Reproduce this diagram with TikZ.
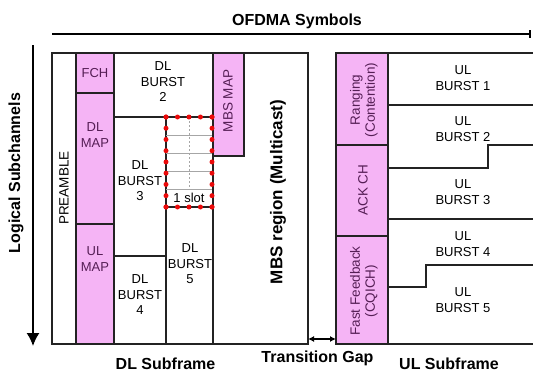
\documentclass[tikz,border=0pt]{standalone}
\usepackage{fontspec}
\setmainfont{Liberation Sans}
\usetikzlibrary{arrows.meta}
\definecolor{pinkfill}{RGB}{245,180,245}
\definecolor{pinktext}{RGB}{85,30,85}
\definecolor{framecol}{RGB}{35,35,35}
\definecolor{slotred}{RGB}{235,10,10}
\begin{document}
\begin{tikzpicture}[x=1pt,y=-1pt,
  region/.style={draw=framecol,line width=1.4pt,outer sep=0pt,inner sep=0pt,anchor=north west},
  pinkregion/.style={region,fill=pinkfill},
  lbl/.style={font=\fontsize{13}{15.5}\selectfont,align=center,inner sep=0pt,text=black},
  plbl/.style={lbl,text=pinktext},
  rlbl/.style={plbl,font=\fontsize{13.5}{15}\selectfont,rotate=90},
  big/.style={font=\fontsize{16}{19}\selectfont\bfseries,inner sep=0pt,text=black},
  gridline/.style={draw=gray!70,line width=0.6pt},
  reddots/.style={draw=slotred,line width=5pt,line cap=round},
  axis/.style={draw=black,line width=1.5pt}]
\useasboundingbox[fill=white] (0,0) rectangle (533,372);

% ---------------- DL subframe ----------------
\node[region,minimum width=256pt,minimum height=291pt] (dlframe) at (52,53) {};
\node[region,minimum width=24pt,minimum height=291pt] (pre) at (52,53) {};
\node[pinkregion,minimum width=38pt,minimum height=40pt] (fch) at (76,53) {};
\node[pinkregion,minimum width=38pt,minimum height=131pt] (dlmap) at (76,93) {};
\node[pinkregion,minimum width=38pt,minimum height=120pt] (ulmap) at (76,224) {};
\node[region,minimum width=99pt,minimum height=64pt] (b2) at (114,53) {};
\node[region,minimum width=52pt,minimum height=139pt] (b3) at (114,117) {};
\node[region,minimum width=52pt,minimum height=88pt] (b4) at (114,256) {};
\node[region,minimum width=47pt,minimum height=227pt] (b5) at (166,117) {};
\node[pinkregion,minimum width=31pt,minimum height=103pt] (mbsmap) at (213,53) {};

% slot grid
\coordinate (s1) at (166,117);
\coordinate (s2) at (212,117);
\coordinate (s3) at (212,207);
\coordinate (s4) at (166,207);
\foreach \yy in {135,153,171,189}{\draw[gridline] (166,\yy) -- (212,\yy);}
\draw[gridline,dash pattern=on 2pt off 2pt] (189,117) -- (189,189);
\draw[framecol,line width=1.4pt] (s4) -- (s3);
\draw[reddots,dash pattern=on 0pt off 11.49pt] (s1) -- (s2);
\draw[reddots,dash pattern=on 0pt off 11.49pt] (s4) -- (s3);
\draw[reddots,dash pattern=on 0pt off 11.24pt] (s1) -- (s4);
\draw[reddots,dash pattern=on 0pt off 11.24pt] (s2) -- (s3);

% DL labels
\node[lbl,font=\fontsize{13.5}{15}\selectfont,rotate=90] (tpre) at (64,188) {PREAMBLE};
\node[plbl] (tfch) at (95,73) {FCH};
\node[plbl] (tdlmap) at (95,135) {DL\\MAP};
\node[plbl] (tulmap) at (95,259) {UL\\MAP};
\node[lbl] (tb2) at (163,82) {DL\\BURST\\2};
\node[lbl] (tb3) at (140,181) {DL\\BURST\\3};
\node[lbl] (tb4) at (140,295) {DL\\BURST\\4};
\node[lbl] (tb5) at (190,264) {DL\\BURST\\5};
\node[lbl] (tslot) at (189,198) {1 slot};
\node[rlbl] (tmbsmap) at (228,101) {MBS MAP};
\node[big,font=\fontsize{17}{20}\selectfont\bfseries,rotate=90] (tmbs) at (278,192) {MBS region (Multicast)};

% ---------------- UL subframe ----------------
\coordinate (ultr) at (533,53);
\coordinate (ulbr) at (533,344);
\node[pinkregion,minimum width=52pt,minimum height=92pt] (rng) at (336,53) {};
\node[pinkregion,minimum width=52pt,minimum height=91pt] (ack) at (336,145) {};
\node[pinkregion,minimum width=52pt,minimum height=108pt] (ff) at (336,236) {};
\draw[framecol,line width=1.4pt] (rng.north east) -- (ultr);
\draw[framecol,line width=1.4pt] (ff.south east) -- (ulbr);
\draw[framecol,line width=1.4pt] (388,105) -- (533,105);
\draw[framecol,line width=1.4pt] (388,168) -- (488,168) -- (488,145) -- (533,145);
\draw[framecol,line width=1.4pt] (388,219) -- (533,219);
\draw[framecol,line width=1.4pt] (388,287) -- (426,287) -- (426,265) -- (533,265);

\node[rlbl] (trng) at (364,100) {Ranging\\(Contention)};
\node[rlbl] (tack) at (363,190) {ACK CH};
\node[rlbl] (tff) at (364,291) {Fast Feedback\\(CQICH)};
\node[lbl] (tu1) at (463,78) {UL\\BURST 1};
\node[lbl] (tu2) at (463,129) {UL\\BURST 2};
\node[lbl] (tu3) at (463,192) {UL\\BURST 3};
\node[lbl] (tu4) at (463,244) {UL\\BURST 4};
\node[lbl] (tu5) at (463,300) {UL\\BURST 5};

% ---------------- axes and captions ----------------
\coordinate (ofdmaL) at (52,34);
\coordinate (ofdmaR) at (531,34);
\draw[axis,-{Bar[width=8pt,line width=2pt]}] (ofdmaL) -- (ofdmaR);
\node[big] (tofdma) at (297,21) {OFDMA Symbols};
\coordinate (lsT) at (33,45);
\coordinate (lsB) at (33,346);
\draw[axis,-{Latex[length=13pt,width=13pt]}] (lsT) -- (lsB);
\node[big,rotate=90] (tls) at (16,173) {Logical Subchannels};

\draw[line width=1.3pt,{Latex[length=6pt,width=6pt]}-{Latex[length=6pt,width=6pt]}] ([yshift=5pt]dlframe.south east) -- ([yshift=5pt]ff.south west);
\node[big] (tgap) at (317.5,358) {Transition Gap};
\node[big] (tdl) at (165.5,364) {DL Subframe};
\node[big] (tul) at (449,364) {UL Subframe};
\end{tikzpicture}
\end{document}
